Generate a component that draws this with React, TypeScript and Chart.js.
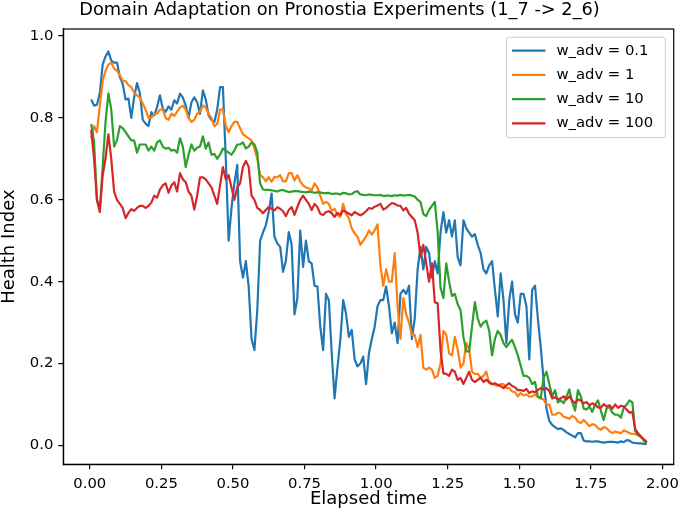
import { useEffect, useRef } from "react";
import { Chart, registerables } from "chart.js";

Chart.register(...registerables);

// sampled every 0.01 along the elapsed-time axis
const elapsedTime = [
  0.005, 0.015, 0.025, 0.035, 0.045, 0.055, 0.065, 0.075, 0.085, 0.095,
  0.105, 0.115, 0.125, 0.135, 0.145, 0.155, 0.165, 0.175, 0.185, 0.195,
  0.205, 0.215, 0.225, 0.235, 0.245, 0.255, 0.265, 0.275, 0.285, 0.295,
  0.305, 0.315, 0.325, 0.335, 0.345, 0.355, 0.365, 0.375, 0.385, 0.395,
  0.405, 0.415, 0.425, 0.435, 0.445, 0.455, 0.465, 0.475, 0.485, 0.495,
  0.505, 0.515, 0.525, 0.535, 0.545, 0.555, 0.565, 0.575, 0.585, 0.595,
  0.605, 0.615, 0.625, 0.635, 0.645, 0.655, 0.665, 0.675, 0.685, 0.695,
  0.705, 0.715, 0.725, 0.735, 0.745, 0.755, 0.765, 0.775, 0.785, 0.795,
  0.805, 0.815, 0.825, 0.835, 0.845, 0.855, 0.865, 0.875, 0.885, 0.895,
  0.905, 0.915, 0.925, 0.935, 0.945, 0.955, 0.965, 0.975, 0.985, 0.995,
  1.005, 1.015, 1.025, 1.035, 1.045, 1.055, 1.065, 1.075, 1.085, 1.095,
  1.105, 1.115, 1.125, 1.135, 1.145, 1.155, 1.165, 1.175, 1.185, 1.195,
  1.205, 1.215, 1.225, 1.235, 1.245, 1.255, 1.265, 1.275, 1.285, 1.295,
  1.305, 1.315, 1.325, 1.335, 1.345, 1.355, 1.365, 1.375, 1.385, 1.395,
  1.405, 1.415, 1.425, 1.435, 1.445, 1.455, 1.465, 1.475, 1.485, 1.495,
  1.505, 1.515, 1.525, 1.535, 1.545, 1.555, 1.565, 1.575, 1.585, 1.595,
  1.605, 1.615, 1.625, 1.635, 1.645, 1.655, 1.665, 1.675, 1.685, 1.695,
  1.705, 1.715, 1.725, 1.735, 1.745, 1.755, 1.765, 1.775, 1.785, 1.795,
  1.805, 1.815, 1.825, 1.835, 1.845, 1.855, 1.865, 1.875, 1.885, 1.895,
  1.905, 1.915, 1.925, 1.935, 1.945,
];

const healthAdv01 = [
  0.845, 0.83, 0.832, 0.86, 0.93, 0.95, 0.962, 0.94, 0.935, 0.935,
  0.9, 0.883, 0.845, 0.847, 0.8, 0.85, 0.885, 0.86, 0.795, 0.786,
  0.78, 0.814, 0.806, 0.826, 0.855, 0.822, 0.815, 0.828, 0.82, 0.843,
  0.835, 0.859, 0.85, 0.83, 0.8, 0.838, 0.85, 0.838, 0.81, 0.867,
  0.845, 0.806, 0.795, 0.79, 0.82, 0.875, 0.875, 0.7, 0.5, 0.58,
  0.64, 0.685, 0.45, 0.41, 0.45, 0.388, 0.26, 0.233, 0.33, 0.5,
  0.52, 0.538, 0.57, 0.615, 0.51, 0.493, 0.485, 0.424, 0.452, 0.521,
  0.49, 0.32, 0.36, 0.525, 0.436, 0.5, 0.45, 0.444, 0.39, 0.388,
  0.29, 0.233, 0.37, 0.355, 0.225, 0.115, 0.19, 0.257, 0.355, 0.322,
  0.265, 0.282, 0.21, 0.193, 0.2, 0.217, 0.15, 0.225, 0.26, 0.29,
  0.34, 0.355, 0.355, 0.388, 0.34, 0.274, 0.3, 0.25, 0.37, 0.38,
  0.37, 0.39, 0.26, 0.31, 0.43, 0.485, 0.43, 0.485, 0.47, 0.41,
  0.45, 0.42, 0.52, 0.57, 0.52, 0.55, 0.51, 0.55, 0.46, 0.44,
  0.55, 0.53, 0.52, 0.51, 0.516, 0.49, 0.47, 0.43, 0.42, 0.44,
  0.45, 0.38, 0.315, 0.42, 0.355, 0.25, 0.355, 0.4, 0.32, 0.3,
  0.37, 0.37, 0.34, 0.21, 0.38, 0.39, 0.31, 0.24, 0.16, 0.09,
  0.06, 0.05, 0.045, 0.04, 0.042, 0.038, 0.032, 0.028, 0.024, 0.02,
  0.03, 0.03, 0.012, 0.01, 0.01, 0.009, 0.01, 0.01, 0.008, 0.007,
  0.008, 0.009, 0.009, 0.008, 0.007, 0.01, 0.008, 0.013, 0.012, 0.007,
  0.006, 0.005, 0.005, 0.004, 0.003,
];

const healthAdv1 = [
  0.75, 0.78, 0.765, 0.83, 0.89, 0.915, 0.93, 0.935, 0.92, 0.915,
  0.905, 0.89, 0.89, 0.88, 0.875, 0.862, 0.855, 0.85, 0.835, 0.82,
  0.8, 0.8, 0.81, 0.81, 0.82, 0.82, 0.8, 0.795, 0.81, 0.805,
  0.815, 0.825, 0.83, 0.82, 0.8, 0.79, 0.795, 0.81, 0.815, 0.83,
  0.825, 0.81, 0.8, 0.78, 0.785, 0.82, 0.82, 0.78, 0.765, 0.78,
  0.79, 0.79, 0.775, 0.76, 0.755, 0.75, 0.745, 0.725, 0.7, 0.66,
  0.655, 0.645, 0.655, 0.644, 0.656, 0.655, 0.66, 0.645, 0.645, 0.665,
  0.665, 0.647, 0.66, 0.645, 0.635, 0.63, 0.628, 0.623, 0.64, 0.63,
  0.61, 0.59, 0.595, 0.59, 0.573, 0.578, 0.563, 0.558, 0.59, 0.565,
  0.555, 0.53, 0.518, 0.51, 0.49, 0.5, 0.51, 0.525, 0.515, 0.525,
  0.54, 0.44, 0.39, 0.43, 0.4, 0.4, 0.47, 0.34, 0.26, 0.36,
  0.32, 0.3, 0.27, 0.27, 0.24, 0.27, 0.19, 0.185, 0.19, 0.185,
  0.165, 0.17, 0.2, 0.28, 0.27, 0.225, 0.22, 0.265, 0.235, 0.19,
  0.2, 0.25, 0.235, 0.18, 0.175, 0.175, 0.165, 0.17, 0.18, 0.152,
  0.15, 0.148, 0.145, 0.15, 0.15, 0.14, 0.14, 0.132, 0.13, 0.12,
  0.128, 0.122, 0.125, 0.119, 0.12, 0.125, 0.118, 0.115, 0.112, 0.1,
  0.1, 0.075, 0.075, 0.08, 0.078, 0.07, 0.068, 0.065, 0.072, 0.068,
  0.058, 0.055, 0.062, 0.055, 0.047, 0.052, 0.05, 0.042, 0.038, 0.045,
  0.042, 0.035, 0.03, 0.034, 0.032, 0.03, 0.037, 0.034, 0.03, 0.028,
  0.028, 0.025, 0.02, 0.015, 0.01,
];

const healthAdv10 = [
  0.785, 0.74, 0.6, 0.575, 0.68, 0.79, 0.86, 0.82, 0.73, 0.745,
  0.78, 0.775, 0.765, 0.755, 0.745, 0.745, 0.715, 0.735, 0.735, 0.735,
  0.72, 0.73, 0.72, 0.74, 0.745, 0.73, 0.725, 0.727, 0.72, 0.722,
  0.715, 0.75, 0.73, 0.68, 0.71, 0.735, 0.72, 0.727, 0.73, 0.755,
  0.725, 0.74, 0.71, 0.712, 0.7, 0.71, 0.725, 0.72, 0.715, 0.71,
  0.72, 0.735, 0.735, 0.74, 0.725, 0.73, 0.74, 0.735, 0.715, 0.64,
  0.625, 0.624, 0.624, 0.623, 0.622, 0.62, 0.623, 0.624, 0.621, 0.619,
  0.62, 0.621, 0.621, 0.62, 0.619, 0.618, 0.62, 0.619, 0.617, 0.618,
  0.618, 0.616, 0.616, 0.617, 0.614, 0.615, 0.615, 0.613, 0.617, 0.616,
  0.613, 0.614, 0.619, 0.621, 0.613, 0.612, 0.611, 0.613, 0.612, 0.611,
  0.611, 0.612, 0.609, 0.61, 0.61, 0.609, 0.611, 0.61, 0.612, 0.61,
  0.611, 0.612, 0.61, 0.608, 0.6, 0.595, 0.565, 0.56, 0.575, 0.585,
  0.595, 0.52, 0.385, 0.36, 0.445, 0.4, 0.365, 0.37, 0.345, 0.33,
  0.265, 0.23, 0.23, 0.29, 0.35, 0.31, 0.29, 0.3, 0.305, 0.28,
  0.22, 0.26, 0.28, 0.27, 0.25, 0.24, 0.25, 0.258, 0.24, 0.22,
  0.195, 0.17, 0.17, 0.165, 0.15, 0.155, 0.12, 0.115, 0.165, 0.18,
  0.15, 0.12, 0.135, 0.105, 0.11, 0.103, 0.12, 0.137, 0.105, 0.085,
  0.135, 0.12, 0.09, 0.088, 0.095, 0.082, 0.1, 0.11, 0.085, 0.062,
  0.09, 0.095, 0.08, 0.075, 0.075, 0.068, 0.092, 0.1, 0.11, 0.105,
  0.035, 0.025, 0.022, 0.012, 0.005,
];

const healthAdv100 = [
  0.77, 0.7, 0.6, 0.57, 0.66, 0.7, 0.76, 0.7, 0.62, 0.6,
  0.59, 0.58, 0.555, 0.568, 0.577, 0.573, 0.58, 0.585, 0.585, 0.58,
  0.585, 0.593, 0.61, 0.605, 0.625, 0.635, 0.64, 0.617, 0.635, 0.643,
  0.62, 0.665, 0.65, 0.643, 0.62, 0.61, 0.576, 0.61, 0.655, 0.655,
  0.65, 0.64, 0.63, 0.61, 0.59, 0.635, 0.68, 0.65, 0.66, 0.63,
  0.6, 0.63, 0.64, 0.68, 0.695, 0.68, 0.61, 0.6, 0.58, 0.575,
  0.567, 0.575, 0.582, 0.578, 0.574, 0.582, 0.578, 0.572, 0.56, 0.575,
  0.582, 0.563, 0.582, 0.6, 0.61, 0.6, 0.59, 0.575, 0.59, 0.582,
  0.566, 0.563, 0.57, 0.572, 0.567, 0.558, 0.568, 0.563, 0.574, 0.57,
  0.566, 0.562, 0.57, 0.566, 0.562, 0.566, 0.572, 0.58, 0.578, 0.583,
  0.586, 0.59, 0.576, 0.58, 0.586, 0.592, 0.59, 0.586, 0.585, 0.574,
  0.58, 0.566, 0.558, 0.55, 0.52, 0.46, 0.49, 0.445, 0.4, 0.445,
  0.35, 0.347, 0.233, 0.176, 0.175, 0.17, 0.185, 0.18, 0.16, 0.165,
  0.15, 0.165, 0.18, 0.16, 0.155, 0.16, 0.165, 0.155, 0.16, 0.155,
  0.15, 0.152, 0.148, 0.145, 0.14, 0.147, 0.152, 0.145, 0.142, 0.135,
  0.135, 0.133, 0.138, 0.128, 0.132, 0.13, 0.135, 0.14, 0.137, 0.14,
  0.133, 0.115, 0.118, 0.113, 0.115, 0.12, 0.112, 0.12, 0.11, 0.103,
  0.112, 0.11, 0.103, 0.106, 0.098, 0.103, 0.099, 0.093, 0.092, 0.101,
  0.095, 0.098, 0.09, 0.1, 0.092, 0.097, 0.095, 0.088, 0.08, 0.082,
  0.04, 0.03, 0.022, 0.015, 0.008,
];

const seriesLabels = ["w_adv = 0.1", "w_adv = 1", "w_adv = 10", "w_adv = 100"];
const seriesColors = ["#1f77b4", "#ff7f0e", "#2ca02c", "#d62728"];
const seriesValues = [healthAdv01, healthAdv1, healthAdv10, healthAdv100];

const xTicks = [0, 0.25, 0.5, 0.75, 1, 1.25, 1.5, 1.75, 2];
const yTicks = [0, 0.2, 0.4, 0.6, 0.8, 1.0];

const FONT = "DejaVu Sans";

// matplotlib-like box around the axes plus the legend in the upper right
const framePlugin = {
  id: "frameAndLegend",
  afterDraw(chart: Chart) {
    const { ctx, chartArea } = chart;
    ctx.save();
    ctx.strokeStyle = "#000";
    ctx.lineWidth = 1.2;
    ctx.strokeRect(
      chartArea.left,
      chartArea.top,
      chartArea.right - chartArea.left,
      chartArea.bottom - chartArea.top,
    );

    const w = 159;
    const h = 100.4;
    const left = chartArea.right - 8.3 - w;
    const top = chartArea.top + 8.3;
    ctx.beginPath();
    ctx.roundRect(left, top, w, h, 3);
    ctx.fillStyle = "rgba(255,255,255,0.8)";
    ctx.fill();
    ctx.strokeStyle = "#cccccc";
    ctx.lineWidth = 1;
    ctx.stroke();

    ctx.font = `14.8px '${FONT}'`;
    ctx.textBaseline = "middle";
    chart.data.datasets.forEach((ds, i) => {
      const y = top + 13.4 + i * 24.2;
      ctx.strokeStyle = ds.borderColor as string;
      ctx.lineWidth = 2.2;
      ctx.beginPath();
      ctx.moveTo(left + 5.6, y);
      ctx.lineTo(left + 39, y);
      ctx.stroke();
      ctx.fillStyle = "#000";
      ctx.fillText(ds.label ?? "", left + 50, y);
    });
    ctx.restore();
  },
};

export default function App() {
  const canvasRef = useRef<HTMLCanvasElement>(null);

  useEffect(() => {
    const chart = new Chart(canvasRef.current!, {
      type: "line",
      data: {
        datasets: seriesValues.map((values, i) => ({
          label: seriesLabels[i],
          data: elapsedTime.map((x, j) => ({ x, y: values[j] })),
          borderColor: seriesColors[i],
          backgroundColor: seriesColors[i],
          borderWidth: 2.2,
          borderJoinStyle: "round" as const,
          pointRadius: 0,
          tension: 0,
          order: seriesValues.length - 1 - i,
        })),
      },
      options: {
        animation: false,
        responsive: false,
        layout: { padding: { left: 0, right: 6, top: 0, bottom: 0 } },
        plugins: {
          legend: { display: false },
          tooltip: { enabled: false },
          title: {
            display: true,
            text: "Domain Adaptation on Pronostia Experiments (1_7 -> 2_6)",
            color: "#000",
            font: { family: FONT, size: 17.8, weight: "normal", lineHeight: 1 },
            padding: { top: 1.5, bottom: 9.7 },
          },
        },
        scales: {
          x: {
            type: "linear",
            min: -0.0925,
            max: 2.0395,
            afterBuildTicks: (scale) => {
              scale.ticks = xTicks.map((value) => ({ value }));
            },
            afterFit: (scale) => {
              scale.height = 54.7;
            },
            ticks: {
              autoSkip: false,
              maxRotation: 0,
              color: "#000",
              padding: 6,
              font: { family: FONT, size: 14.8, lineHeight: 1.2 },
              callback: (value) => Number(value).toFixed(2),
            },
            grid: {
              drawOnChartArea: false,
              drawTicks: true,
              tickLength: 5,
              color: "#000",
              lineWidth: 1.2,
            },
            border: { display: true, color: "#000", width: 1.2 },
            title: {
              display: true,
              text: "Elapsed time",
              color: "#000",
              font: { family: FONT, size: 18, lineHeight: 1 },
              padding: { top: 0, bottom: 10.3 },
            },
          },
          y: {
            min: -0.046,
            max: 1.017,
            afterBuildTicks: (scale) => {
              scale.ticks = yTicks.map((value) => ({ value }));
            },
            afterFit: (scale) => {
              scale.width = 63.3;
            },
            ticks: {
              autoSkip: false,
              color: "#000",
              padding: 5,
              font: { family: FONT, size: 14.8 },
              callback: (value) => Number(value).toFixed(1),
            },
            grid: {
              drawOnChartArea: false,
              drawTicks: true,
              tickLength: 5,
              color: "#000",
              lineWidth: 1.2,
            },
            border: { display: true, color: "#000", width: 1.2 },
            title: {
              display: true,
              text: "Health Index",
              color: "#000",
              font: { family: FONT, size: 18, lineHeight: 1 },
              padding: { top: 0, bottom: 0 },
            },
          },
        },
      },
      plugins: [framePlugin],
    });

    return () => chart.destroy();
  }, []);

  return (
    <div style={{ position: "fixed", left: 0, top: 0, width: 685, height: 519, background: "#fff" }}>
      <canvas ref={canvasRef} width={685} height={519}></canvas>
    </div>
  );
}
